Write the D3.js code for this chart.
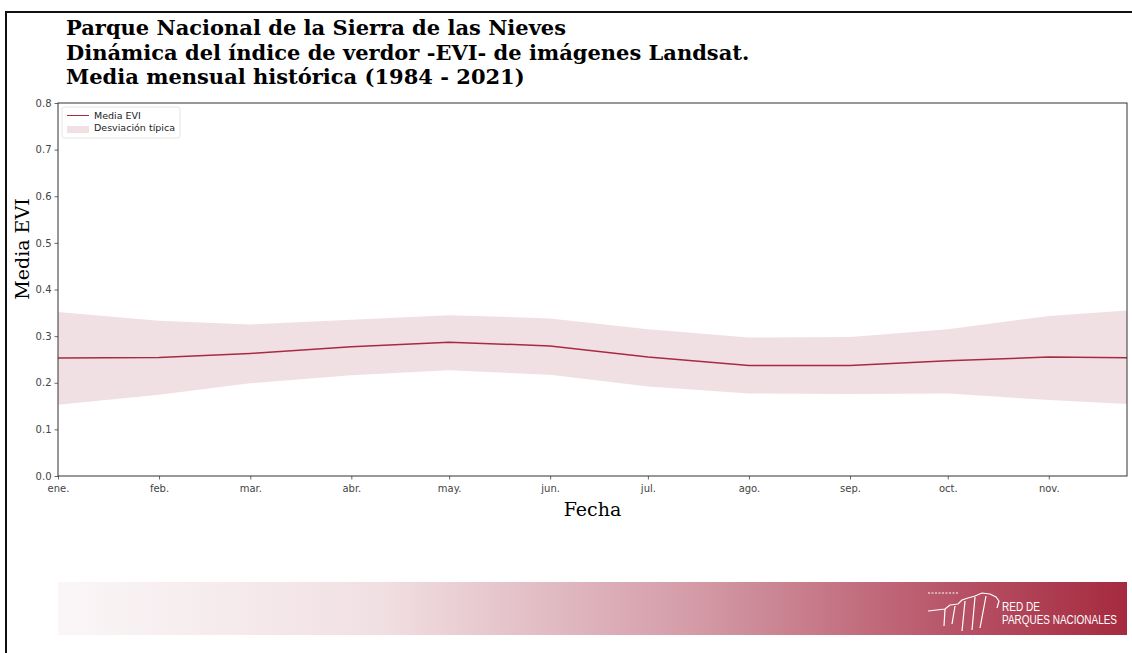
<!DOCTYPE html>
<html>
<head>
<meta charset="utf-8">
<script src="https://cdn.jsdelivr.net/npm/d3@7"></script>
<style>
  body { margin: 0; background: #fff; }
  svg { display: block; }
</style>
</head>
<body>
<div id="chart"></div>
<script>
// monthly data (1st of each month)
const months = ['ene.', 'feb.', 'mar.', 'abr.', 'may.', 'jun.', 'jul.', 'ago.', 'sep.', 'oct.', 'nov.', 'dic.'];
const meanEvi = [0.253, 0.254, 0.263, 0.277, 0.287, 0.279, 0.255, 0.237, 0.237, 0.247, 0.255, 0.253];
const upperEvi = [0.352, 0.333, 0.325, 0.335, 0.345, 0.338, 0.315, 0.297, 0.298, 0.315, 0.343, 0.358];
const lowerEvi = [0.153, 0.174, 0.199, 0.216, 0.227, 0.217, 0.192, 0.177, 0.176, 0.177, 0.163, 0.152];
const yTicks = [0.0, 0.1, 0.2, 0.3, 0.4, 0.5, 0.6, 0.7, 0.8];
const titleLines = [
  'Parque Nacional de la Sierra de las Nieves',
  'Dinámica del índice de verdor -EVI- de imágenes Landsat.',
  'Media mensual histórica (1984 - 2021)'
];

const width = 1132;
const height = 653;
const margin = {top: 103, right: 5, bottom: 177, left: 58};
const innerWidth = 1127 - margin.left;
const innerHeight = 476 - margin.top;
const lineColor = '#a82a40';
const bandColor = '#f0e0e4';

const data = months.map((m, i) => ({
  date: new Date(2021, i, 1), mean: meanEvi[i], up: upperEvi[i], low: lowerEvi[i]
}));

const svg = d3.select('#chart').append('svg')
  .attr('width', width)
  .attr('height', height);

// outer frame
svg.append('path')
  .attr('d', `M6,${height} L6,12 L${width},12`)
  .attr('fill', 'none')
  .attr('stroke', '#111')
  .attr('stroke-width', 2);

// titles
svg.append('g').selectAll('text').data(titleLines).enter()
  .append('text')
  .attr('x', 66)
  .attr('y', (d, i) => 35 + i * 24.5)
  .style('font-family', '"DejaVu Serif", serif')
  .style('font-weight', 'bold')
  .style('font-size', '21px')
  .attr('fill', '#000')
  .text(d => d);

const xScale = d3.scaleTime()
  .domain([new Date(2021, 0, 1), new Date(2021, 10, 25)])
  .range([0, innerWidth]);

const yScale = d3.scaleLinear()
  .domain([0, 0.8])
  .range([innerHeight, 0]);

const g = svg.append('g')
  .attr('transform', `translate(${margin.left},${margin.top})`);

g.append('clipPath').attr('id', 'clip')
  .append('rect').attr('width', innerWidth).attr('height', innerHeight);

const plot = g.append('g').attr('clip-path', 'url(#clip)');

const area = d3.area()
  .x(d => xScale(d.date))
  .y0(d => yScale(d.low))
  .y1(d => yScale(d.up));

const line = d3.line()
  .x(d => xScale(d.date))
  .y(d => yScale(d.mean));

plot.append('path')
  .datum(data)
  .attr('d', area)
  .attr('fill', bandColor);

plot.append('path')
  .datum(data)
  .attr('d', line)
  .attr('fill', 'none')
  .attr('stroke', lineColor)
  .attr('stroke-width', 1.5);

// axes
const xAxis = g.append('g')
  .attr('transform', `translate(0,${innerHeight})`)
  .call(d3.axisBottom(xScale)
    .tickValues(data.slice(0, 11).map(d => d.date))
    .tickFormat((d, i) => months[i])
    .tickSize(3.5).tickSizeOuter(0));

const yAxis = g.append('g')
  .call(d3.axisLeft(yScale)
    .tickValues(yTicks)
    .tickFormat(d3.format('.1f'))
    .tickSize(3.5).tickSizeOuter(0));

[xAxis, yAxis].forEach(ax => {
  ax.select('.domain').remove();
  ax.selectAll('line').attr('stroke', '#444').attr('stroke-width', 0.8);
  ax.selectAll('text')
    .style('font-family', '"DejaVu Sans", sans-serif')
    .style('font-size', '10px')
    .attr('fill', '#444');
});
xAxis.selectAll('text').attr('dy', '0.95em');

// spines
g.append('rect')
  .attr('width', innerWidth)
  .attr('height', innerHeight)
  .attr('fill', 'none')
  .attr('stroke', '#333')
  .attr('stroke-width', 1);

// axis labels
svg.append('text')
  .attr('x', margin.left + innerWidth / 2)
  .attr('y', 516)
  .attr('text-anchor', 'middle')
  .style('font-family', '"DejaVu Serif", serif')
  .style('font-size', '19px')
  .text('Fecha');

svg.append('text')
  .attr('transform', 'translate(29,249) rotate(-90)')
  .attr('text-anchor', 'middle')
  .style('font-family', '"DejaVu Serif", serif')
  .style('font-size', '19px')
  .text('Media EVI');

// legend
const legend = g.append('g').attr('transform', 'translate(4,4)');
legend.append('rect')
  .attr('width', 118).attr('height', 31).attr('rx', 2)
  .attr('fill', '#fff').attr('stroke', '#ddd').attr('stroke-width', 0.8);
legend.append('line')
  .attr('x1', 5).attr('x2', 27).attr('y1', 8.5).attr('y2', 8.5)
  .attr('stroke', lineColor).attr('stroke-width', 1);
legend.append('rect')
  .attr('x', 5).attr('y', 19).attr('width', 22).attr('height', 7)
  .attr('fill', bandColor);
legend.selectAll('text.leg').data(['Media EVI', 'Desviación típica']).enter()
  .append('text')
  .attr('x', 32)
  .attr('y', (d, i) => 11.5 + i * 12.5)
  .style('font-family', '"DejaVu Sans", sans-serif')
  .style('font-size', '9.5px')
  .attr('fill', '#222')
  .text(d => d);

// footer band with gradient
const defs = svg.append('defs');
const grad = defs.append('linearGradient').attr('id', 'foot');
grad.append('stop').attr('offset', '0%').attr('stop-color', '#faf6f7');
grad.append('stop').attr('offset', '30%').attr('stop-color', '#f1e0e3');
grad.append('stop').attr('offset', '60%').attr('stop-color', '#d39aa6');
grad.append('stop').attr('offset', '85%').attr('stop-color', '#b65064');
grad.append('stop').attr('offset', '100%').attr('stop-color', '#a52a3f');

svg.append('rect')
  .attr('x', 58).attr('y', 582)
  .attr('width', 1069).attr('height', 53)
  .attr('fill', 'url(#foot)');

// logo
const logo = svg.append('g').attr('fill', 'none').attr('stroke', '#fff').attr('stroke-width', 1.2);
logo.append('path').attr('d', 'M928,611 L945,609 L950,605 L958,604 L962,600 L968,598 L975,596 L982,593 L990,594 L996,597 L999,601 L997,608');
logo.append('path').attr('d', 'M945,609 L944,626 M955,606 L952,624 M965,601 L962,631 M975,597 L972,630 M986,596 L980,628');
logo.append('path').attr('d', 'M928,593 L958,593').attr('stroke-dasharray', '2,1.5');
const logoText = [{t: 'RED DE', w: 38}, {t: 'PARQUES NACIONALES', w: 115}];
svg.selectAll('text.logo').data(logoText).enter()
  .append('text')
  .attr('class', 'logo')
  .attr('x', 1002)
  .attr('y', (d, i) => 611 + i * 13)
  .attr('fill', '#fff')
  .attr('textLength', d => d.w)
  .attr('lengthAdjust', 'spacingAndGlyphs')
  .style('font-family', '"Liberation Sans", sans-serif')
  .style('font-size', '12px')
  .text(d => d.t);
</script>
</body>
</html>
